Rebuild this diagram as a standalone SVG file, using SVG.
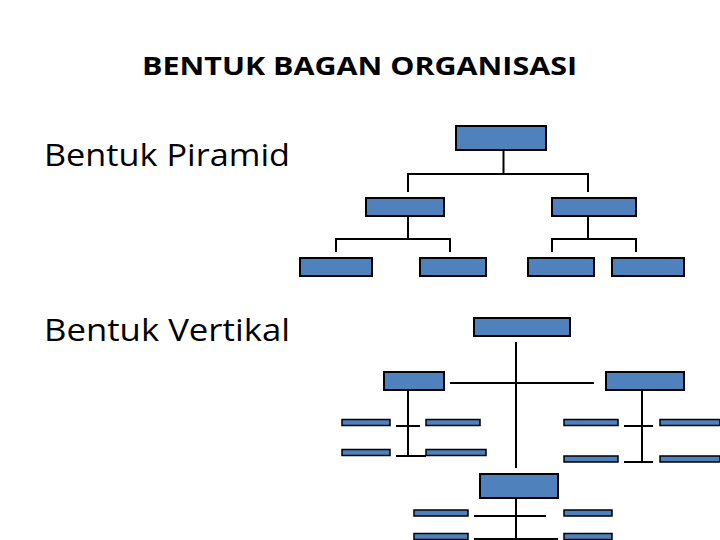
<svg xmlns="http://www.w3.org/2000/svg" width="720" height="540" viewBox="0 0 720 540">
<style>
.box{fill:#4F81BD;stroke:#000;stroke-width:2}
.bar{fill:#4F81BD;stroke:#000;stroke-width:1.5}
.ln{stroke:#000;stroke-width:2;fill:none}
.t{font-family:"Open Sans","Liberation Sans",sans-serif;fill:#000}
</style>
<rect width="720" height="540" fill="#fff"/>
<text class="t" x="142" y="75" font-size="25" font-weight="bold" textLength="435" lengthAdjust="spacingAndGlyphs">BENTUK BAGAN ORGANISASI</text>
<text class="t" x="44" y="166" font-size="31" textLength="246" lengthAdjust="spacingAndGlyphs">Bentuk Piramid</text>
<text class="t" x="44" y="341" font-size="31" textLength="246" lengthAdjust="spacingAndGlyphs">Bentuk Vertikal</text>
<g id="connectors">
<path class="ln" d="M503.5 150V174M408 174H588M408 173V192M588 173V192"/>
<path class="ln" d="M408 216V239M336 239H450M336 238V252M450 238V252"/>
<path class="ln" d="M588 216V239M552 239H636M552 238V252M636 238V252"/>
<path class="ln" d="M516 342V468M450 383H594"/>
<path class="ln" d="M408 390V456M396 426H420M396 456H426"/>
<path class="ln" d="M642 390V462M624 426H653M624 462H653"/>
<path class="ln" d="M516 498V540M474 516H546M474 539H558"/>
</g>
<g id="p-top"><rect class="box" x="456" y="126" width="90" height="24"/></g>
<g id="p-mid-left"><rect class="box" x="366" y="198" width="78" height="18"/></g>
<g id="p-mid-right"><rect class="box" x="552" y="198" width="84" height="18"/></g>
<g id="p-bot-1"><rect class="box" x="300" y="258" width="72" height="18"/></g>
<g id="p-bot-2"><rect class="box" x="420" y="258" width="66" height="18"/></g>
<g id="p-bot-3"><rect class="box" x="528" y="258" width="66" height="18"/></g>
<g id="p-bot-4"><rect class="box" x="612" y="258" width="72" height="18"/></g>
<g id="v-top"><rect class="box" x="474" y="318" width="96" height="18"/></g>
<g id="v-left"><rect class="box" x="384" y="372" width="60" height="18"/></g>
<g id="v-right"><rect class="box" x="606" y="372" width="78" height="18"/></g>
<g id="v-bottom"><rect class="box" x="480" y="474" width="78" height="24"/></g>
<g id="v-left-bars">
<rect class="bar" x="342" y="419.5" width="48" height="6"/>
<rect class="bar" x="426" y="419.5" width="54" height="6"/>
<rect class="bar" x="342" y="449.5" width="48" height="6"/>
<rect class="bar" x="426" y="449.5" width="60" height="6"/>
</g>
<g id="v-right-bars">
<rect class="bar" x="564" y="419.5" width="54" height="6"/>
<rect class="bar" x="660" y="419.5" width="60" height="6"/>
<rect class="bar" x="564" y="456" width="54" height="6"/>
<rect class="bar" x="660" y="456" width="60" height="6"/>
</g>
<g id="v-bottom-bars">
<rect class="bar" x="414" y="510" width="54" height="6"/>
<rect class="bar" x="564" y="510" width="48" height="6"/>
<rect class="bar" x="414" y="533.5" width="54" height="6"/>
<rect class="bar" x="564" y="533.5" width="48" height="6"/>
</g>
</svg>
